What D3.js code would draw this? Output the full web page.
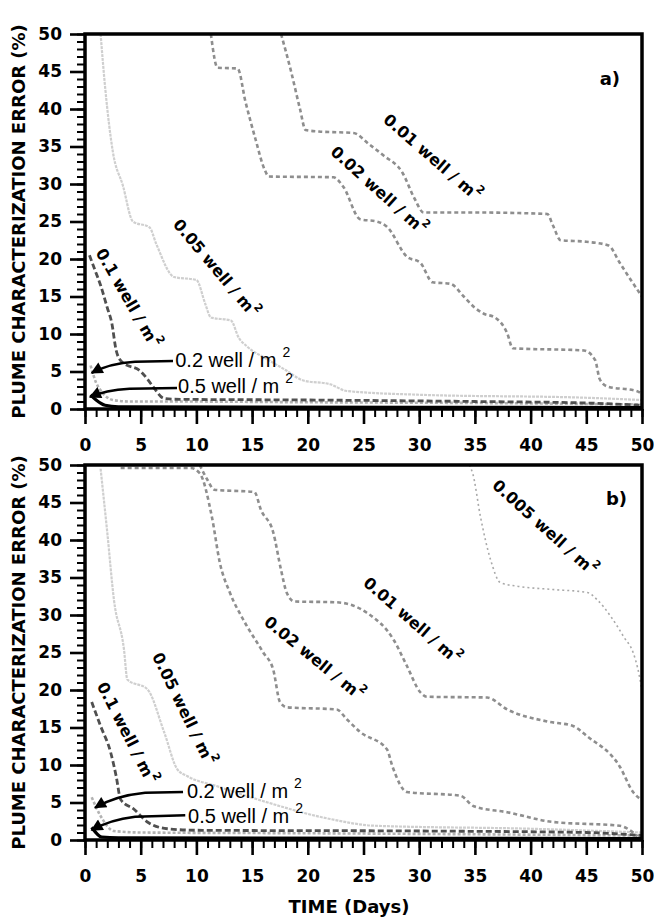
<!DOCTYPE html>
<html>
<head>
<meta charset="utf-8">
<script src="https://d3js.org/d3.v7.min.js"></script>
<style>
	body { margin: 0; background: #fff; }
	svg { display: block; }
	.tick text { font-family: "DejaVu Sans", sans-serif; font-weight: bold; font-size: 17px; fill: #000; }
	.axis-title { font-family: "DejaVu Sans", sans-serif; font-weight: bold; font-size: 18px; }
	.curve-label { font-family: "DejaVu Sans", sans-serif; font-weight: bold; font-size: 16px; }
	.arrow-label { font-family: "Liberation Sans", Arial, sans-serif; font-size: 20px; }
</style>
</head>
<body>
<div id="chartContainer"></div>
<script>

// ---- data: [day, error %] -------------------------------------------------

let xTicks = [0, 5, 10, 15, 20, 25, 30, 35, 40, 45, 50],
	yTicks = [0, 5, 10, 15, 20, 25, 30, 35, 40, 45, 50];

// panel a)
let a_001 = [[17.6,50],[18.5,45],[19.3,40],[19.8,37.2],[21,37],[24.1,36.8],[25.5,35.3],[26.8,33.8],[28.5,31.5],[29.6,28],[30.4,26.2],[35,26.2],[41.5,26],[42,24.5],[42.7,22.5],[45,22.3],[47,21.8],[48,19.5],[49,17.2],[50,15]];
let a_002 = [[11.3,50],[11.9,45.5],[13.7,45.4],[14.4,41],[15.3,36],[16.1,32],[16.5,31],[22.3,30.9],[23.2,29.6],[24.7,25.3],[26.2,25],[27.1,24.3],[28.9,20.3],[30.1,19.5],[31.2,16.9],[32.8,16.7],[34,15],[35,13.5],[35.8,12.7],[36.8,12.2],[37.9,10.1],[38.4,8.1],[44.8,7.8],[45.8,6.5],[46.2,4],[46.9,3],[49.5,2.4],[50,2]];
let a_005 = [[1.4,50],[1.8,43],[2.5,34.3],[3.4,29.8],[4.3,25],[5.8,24.2],[6.4,22],[8,17.6],[10,17.2],[10.8,14],[11.3,12.2],[13.1,11.8],[13.8,9.5],[14.5,8.4],[16.4,6.6],[18,5.2],[19.6,3.8],[22,3.3],[23.5,2.4],[30,1.9],[45,1.5],[50,1.2]];
let a_01  = [[0.4,20.5],[0.9,18.5],[1.4,16.5],[2.0,13.5],[2.4,11.5],[2.8,7.8],[3.3,6.3],[5,5],[5.6,4],[6.2,2.8],[7.1,1.4],[8,1.3],[20,1.2],[35,1.0],[45,0.8],[50,0.5]];
let a_02  = [[0.5,5.8],[1.0,3.5],[1.5,2.3],[2.5,1.2],[4,1.0],[8,1.0],[20,0.9],[35,0.8],[50,0.6]];
let a_05  = [[0.5,1.9],[1.0,1.2],[1.8,0.5],[3,0.3],[50,0.2]];

// panel b)
let b_0005 = [[34.5,50],[34.8,48.9],[35.5,43.1],[36.4,37.4],[37.3,34.3],[39,33.8],[42,33.4],[45.1,33],[46,32],[47.2,29.8],[48.4,27],[49.2,25],[49.6,23],[50,20]];
let b_001  = [[10.3,50],[11,48],[11.6,46.7],[15.2,46.4],[15.8,44],[16.9,41],[17.6,36],[18.1,33],[18.8,31.8],[22.5,31.7],[24,31.3],[25.3,30.3],[27.7,26.7],[28.9,23.2],[30.1,19.7],[30.7,19.1],[36.1,19],[37.9,17.4],[41.5,15.8],[43.8,15.2],[45.1,13.8],[48,9.8],[49.2,6.4],[50,5.3]];
let b_002  = [[3.2,49.6],[9.5,49.6],[10.3,48.9],[11.4,43],[12.1,37],[13,33],[14.2,29.4],[16,25],[16.9,22.7],[17.5,18.4],[18.1,17.7],[22.6,17.4],[23.5,16.1],[24.7,14.4],[27.1,12.1],[27.6,9.8],[28.9,6.4],[33.7,5.9],[34.9,4.5],[37.9,3.7],[42,2.4],[48,1.9],[49.6,0.5]];
let b_005  = [[1.4,49.5],[2.0,41],[2.6,32],[3.5,25.4],[3.8,21.4],[5.6,20.1],[7.1,14.4],[8.3,9.4],[9.2,8.5],[11.8,7.2],[16.4,5],[22,2.8],[26,1.9],[40,1.5],[50,1.0]];
let b_01   = [[0.6,18.4],[1.4,15.2],[2.3,11.7],[2.8,8.5],[3.2,5.4],[4.4,4.1],[5.6,2.4],[7.4,1.5],[10,1.3],[30,1.2],[45,1.0],[50,0.6]];
let b_02   = [[0.6,5.7],[1.4,3.2],[2.6,1.2],[5,1.0],[20,0.9],[50,0.6]];
let b_05   = [[0.6,1.7],[1.5,0.4],[3,0.3],[50,0.2]];

// curve labels: [density, day, error, angle]
let labelsA = [["0.01", 31.2, 33.6, 41], ["0.02", 26.4, 29.2, 42], ["0.05", 11.8, 18.8, 50], ["0.1", 3.9, 14.8, 60]];
let labelsB = [["0.005", 41.3, 41.7, 42], ["0.01", 29.4, 29.3, 41], ["0.02", 20.6, 24.3, 39], ["0.05", 8.9, 17.5, 64], ["0.1", 3.8, 14.3, 63]];

// arrow labels: [density, text day, text err, line start, bend, control, tip] (data units)
let arrowsA = [
	["0.2", 8.1, 5.6, [7.9,6.4], [4.5,6.3], [2.2,6.1], [0.6,4.8]],
	["0.5", 8.35, 2.1, [8.26,2.8], [4.0,2.7], [1.8,2.5], [0.45,1.6]]
];
let arrowsB = [
	["0.2", 9.15, 5.6, [8.8,6.4], [5.4,6.3], [2.7,5.9], [0.9,4.3]],
	["0.5", 9.25, 2.3, [9.0,3.3], [4.5,3.1], [2.2,2.7], [0.6,1.3]]
];

// line look for each well density
let lineStyles = {
	"0.005" : { color: "#a9a9a9", width: 1.6, dash: "2,3" },
	"0.01"  : { color: "#8e8e8e", width: 2.6, dash: "4,3" },
	"0.02"  : { color: "#8e8e8e", width: 2.6, dash: "4,3" },
	"0.05"  : { color: "#cfcfcf", width: 2.2, dash: "3,1" },
	"0.1"   : { color: "#505050", width: 2.8, dash: "6,3" },
	"0.2"   : { color: "#b3b3b3", width: 2.6, dash: "3,2" },
	"0.5"   : { color: "#000000", width: 3.2, dash: null }
};

let canvasWidth  = 654,
	canvasHeight = 924,
	plotLeft     = 85,
	plotRight    = 642,
	plotHeight   = 375;

function init() {

	let svg = d3.select("#chartContainer")
		.append("svg")
			.attr("width", canvasWidth)
			.attr("height", canvasHeight);

	let defs = svg.append("defs");

	defs.append("marker")
		.attr("id", "arrowHead")
		.attr("viewBox", "0 0 10 10")
		.attr("refX", 9)
		.attr("refY", 5)
		.attr("markerUnits", "userSpaceOnUse")
		.attr("markerWidth", 16)
		.attr("markerHeight", 12)
		.attr("orient", "auto")
		.append("path")
			.attr("d", "M0,0 L10,5 L0,10 z")
			.attr("fill", "#000");

	drawPanel(svg, {
		id      : "a",
		top     : 34,
		series  : [["0.05", a_005], ["0.2", a_02], ["0.01", a_001], ["0.02", a_002], ["0.1", a_01], ["0.5", a_05]],
		labels  : labelsA,
		arrows  : arrowsA,
		letter  : "a)",
		letterX : 620,
		letterDy: 51
	});

	drawPanel(svg, {
		id      : "b",
		top     : 465,
		series  : [["0.005", b_0005], ["0.05", b_005], ["0.2", b_02], ["0.01", b_001], ["0.02", b_002], ["0.1", b_01], ["0.5", b_05]],
		labels  : labelsB,
		arrows  : arrowsB,
		letter  : "b)",
		letterX : 627,
		letterDy: 40
	});

	// x axis title, only under the lower panel
	svg.append("text")
		.attr("class", "axis-title")
		.attr("x", 349)
		.attr("y", 913)
		.attr("text-anchor", "middle")
		.text("TIME (Days)");
}

function drawPanel(svg, p) {

	let xScale = d3.scaleLinear()
		.domain([0, 50])
		.range([plotLeft, plotRight]);

	let yScale = d3.scaleLinear()
		.domain([0, 50])
		.range([p.top + plotHeight, p.top]);

	let g = svg.append("g");

	svg.select("defs")
		.append("clipPath")
			.attr("id", "clip-" + p.id)
			.append("rect")
				.attr("x", plotLeft)
				.attr("y", p.top)
				.attr("width", plotRight - plotLeft)
				.attr("height", plotHeight);

	// curves
	let line = d3.line()
		.x(d => xScale(d[0]))
		.y(d => yScale(d[1]))
		.curve(d3.curveMonotoneX);

	g.append("g")
		.attr("clip-path", "url(#clip-" + p.id + ")")
		.selectAll("path")
		.data(p.series)
			.enter()
				.append("path")
					.attr("d", d => line(d[1]))
					.attr("fill", "none")
					.attr("stroke", d => lineStyles[d[0]].color)
					.attr("stroke-width", d => lineStyles[d[0]].width)
					.attr("stroke-dasharray", d => lineStyles[d[0]].dash)
					.attr("stroke-linejoin", "round");

	// minor + major ticks
	let yMinor = g.append("g")
		.attr("transform", "translate(" + plotLeft + ",0)")
		.call(d3.axisLeft(yScale).tickValues(d3.range(0, 51, 1)).tickSize(8).tickFormat(""));

	let yMajor = g.append("g")
		.attr("transform", "translate(" + plotLeft + ",0)")
		.call(d3.axisLeft(yScale).tickValues(yTicks).tickSize(15).tickPadding(8));

	let xMinor = g.append("g")
		.attr("transform", "translate(0," + (p.top + plotHeight) + ")")
		.call(d3.axisBottom(xScale).tickValues(d3.range(0, 51, 1)).tickSize(8).tickFormat(""));

	let xMajor = g.append("g")
		.attr("transform", "translate(0," + (p.top + plotHeight) + ")")
		.call(d3.axisBottom(xScale).tickValues(xTicks).tickSize(15).tickPadding(15));

	[yMinor, yMajor, xMinor, xMajor].forEach(function (ax) {
		ax.select(".domain").remove();
		ax.selectAll(".tick line").attr("stroke", "#000");
	});
	yMinor.selectAll(".tick line").attr("stroke-width", 2);
	xMinor.selectAll(".tick line").attr("stroke-width", 2);
	yMajor.selectAll(".tick line").attr("stroke-width", 2.6);
	xMajor.selectAll(".tick line").attr("stroke-width", 2.6);

	// frame
	g.append("rect")
		.attr("x", plotLeft)
		.attr("y", p.top)
		.attr("width", plotRight - plotLeft)
		.attr("height", plotHeight)
		.attr("fill", "none")
		.attr("stroke", "#000")
		.attr("stroke-width", 3.5);

	// rotated curve labels
	let labelText = g.selectAll(".curve-label")
		.data(p.labels)
			.enter()
				.append("text")
					.attr("class", "curve-label")
					.attr("text-anchor", "middle")
					.attr("dominant-baseline", "central")
					.attr("transform", d => "translate(" + xScale(d[1]) + "," + yScale(d[2]) + ") rotate(" + d[3] + ")");

	labelText.append("tspan").text(d => d[0] + " well / m");
	labelText.append("tspan")
		.attr("dy", -7)
		.attr("font-size", 11)
		.text("2");

	// arrows with plain labels
	p.arrows.forEach(function (a) {

		let path = d3.path();
		path.moveTo(xScale(a[3][0]), yScale(a[3][1]));
		path.lineTo(xScale(a[4][0]), yScale(a[4][1]));
		path.quadraticCurveTo(xScale(a[5][0]), yScale(a[5][1]), xScale(a[6][0]), yScale(a[6][1]));

		g.append("path")
			.attr("d", path.toString())
			.attr("fill", "none")
			.attr("stroke", "#000")
			.attr("stroke-width", 2.4)
			.attr("marker-end", "url(#arrowHead)");

		let t = g.append("text")
			.attr("class", "arrow-label")
			.attr("x", xScale(a[1]))
			.attr("y", yScale(a[2]));

		t.append("tspan").text(a[0] + " well / m");
		t.append("tspan")
			.attr("dx", 6)
			.attr("dy", -10)
			.attr("font-size", 14)
			.text("2");
	});

	// panel letter
	g.append("text")
		.attr("class", "axis-title")
		.attr("x", p.letterX)
		.attr("y", p.top + p.letterDy)
		.attr("text-anchor", "end")
		.attr("font-size", 17)
		.text(p.letter);

	// y axis title
	g.append("text")
		.attr("class", "axis-title")
		.attr("transform", "translate(25," + (p.top + plotHeight / 2) + ") rotate(-90)")
		.attr("text-anchor", "middle")
		.text("PLUME CHARACTERIZATION ERROR (%)");
}

init();

</script>
</body>
</html>
